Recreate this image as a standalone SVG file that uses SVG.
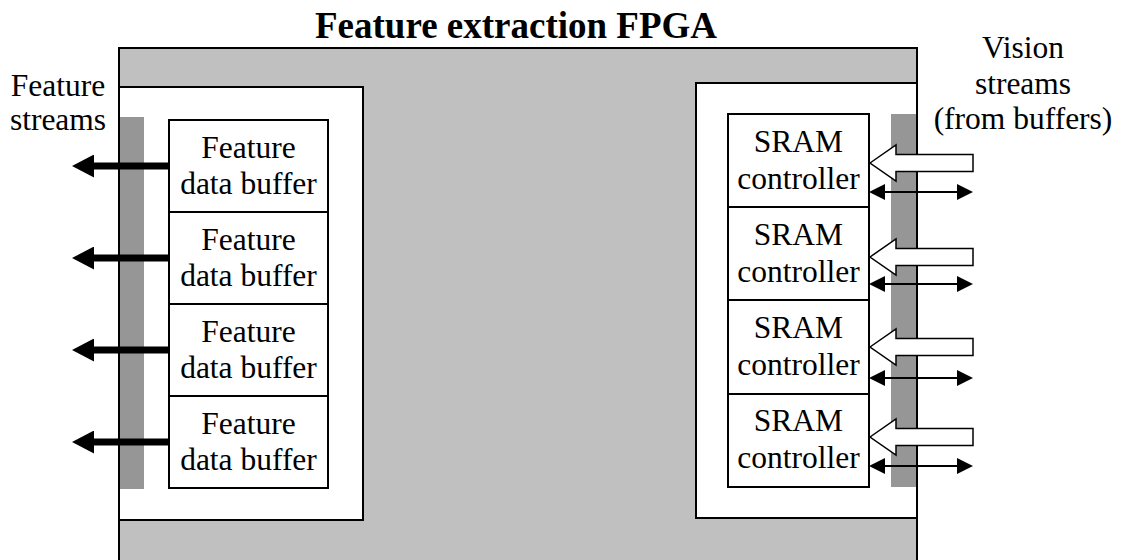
<svg xmlns="http://www.w3.org/2000/svg" width="1127" height="560" viewBox="0 0 1127 560">
<style>
text{font-family:"Liberation Serif","Times New Roman",serif;fill:#000}
.lbl{font-size:31.5px;text-anchor:middle}
.title{font-size:37px;font-weight:bold;text-anchor:middle}
.box{fill:#fff;stroke:#000;stroke-width:2}
.bar{fill:#969696;stroke:none}
.edge{fill:none;stroke:#000;stroke-width:2}
.thick{stroke:#000;stroke-width:7;fill:none}
.thin{stroke:#000;stroke-width:2;fill:none}
.wide{fill:#fff;stroke:#000;stroke-width:1.5}
</style>
<defs>
<marker id="bigHead" markerUnits="userSpaceOnUse" markerWidth="22" markerHeight="23" refX="0" refY="11.5" orient="auto">
<path d="M0,0 L22,11.5 L0,23 z" fill="#000"/>
</marker>
<marker id="smallHead" markerUnits="userSpaceOnUse" markerWidth="16" markerHeight="16" refX="0" refY="8" orient="auto-start-reverse">
<path d="M0,0 L16,8 L0,16 z" fill="#000"/>
</marker>
</defs>
<rect width="1127" height="560" fill="#fff"/>
<text class="title" x="516" y="38">Feature extraction FPGA</text>
<g id="fpga">
<rect x="119" y="48" width="798" height="530" fill="#c0c0c0"/>
</g>
<g id="left-region">
<rect x="119" y="87" width="244" height="433" fill="#fff"/>
<rect class="bar" x="119" y="117" width="25" height="372"/>
</g>
<g id="right-region">
<rect x="696" y="83" width="221" height="435" fill="#fff"/>
<rect class="bar" x="891" y="114" width="25" height="373"/>
</g>
<g id="outlines">
<path class="edge" d="M119,578 V48 H917 V578"/>
<path class="edge" d="M119,87 H363 V520 H119"/>
<path class="edge" d="M917,83 H696 V518 H917"/>
</g>
<g id="buf1"><rect class="box" x="169" y="120" width="159" height="92"/><text class="lbl" x="248.5" y="158">Feature</text><text class="lbl" x="248.5" y="194">data buffer</text></g>
<g id="buf2"><rect class="box" x="169" y="212" width="159" height="92"/><text class="lbl" x="248.5" y="250">Feature</text><text class="lbl" x="248.5" y="286">data buffer</text></g>
<g id="buf3"><rect class="box" x="169" y="304" width="159" height="92"/><text class="lbl" x="248.5" y="342">Feature</text><text class="lbl" x="248.5" y="378">data buffer</text></g>
<g id="buf4"><rect class="box" x="169" y="396" width="159" height="92"/><text class="lbl" x="248.5" y="434">Feature</text><text class="lbl" x="248.5" y="470">data buffer</text></g>
<g id="sram1"><rect class="box" x="728" y="114" width="141" height="93"/><text class="lbl" x="798.5" y="152">SRAM</text><text class="lbl" x="798.5" y="189">controller</text></g>
<g id="sram2"><rect class="box" x="728" y="207" width="141" height="93"/><text class="lbl" x="798.5" y="245">SRAM</text><text class="lbl" x="798.5" y="282">controller</text></g>
<g id="sram3"><rect class="box" x="728" y="300" width="141" height="94"/><text class="lbl" x="798.5" y="338">SRAM</text><text class="lbl" x="798.5" y="375">controller</text></g>
<g id="sram4"><rect class="box" x="728" y="394" width="141" height="93"/><text class="lbl" x="798.5" y="431">SRAM</text><text class="lbl" x="798.5" y="468">controller</text></g>
<g id="label-feature-streams"><text class="lbl" x="58" y="96">Feature</text><text class="lbl" x="58" y="130">streams</text></g>
<g id="label-vision-streams"><text class="lbl" x="1023" y="58">Vision</text><text class="lbl" x="1023" y="94">streams</text><text class="lbl" x="1023" y="129">(from buffers)</text></g>
<g id="connectors">
<line class="thick" x1="169" y1="166" x2="94" y2="166" marker-end="url(#bigHead)"/>
<line class="thick" x1="169" y1="258" x2="94" y2="258" marker-end="url(#bigHead)"/>
<line class="thick" x1="169" y1="350" x2="94" y2="350" marker-end="url(#bigHead)"/>
<line class="thick" x1="169" y1="442" x2="94" y2="442" marker-end="url(#bigHead)"/>
<polygon class="wide" points="870,163 896,145 896,154.5 973,154.5 973,171.5 896,171.5 896,181"/>
<polygon class="wide" points="870,257 896,239 896,248.5 973,248.5 973,265.5 896,265.5 896,275"/>
<polygon class="wide" points="870,347 896,329 896,338.5 973,338.5 973,355.5 896,355.5 896,365"/>
<polygon class="wide" points="870,437 896,419 896,428.5 973,428.5 973,445.5 896,445.5 896,455"/>
<line class="thin" x1="885" y1="192" x2="957" y2="192" marker-start="url(#smallHead)" marker-end="url(#smallHead)"/>
<line class="thin" x1="885" y1="284" x2="957" y2="284" marker-start="url(#smallHead)" marker-end="url(#smallHead)"/>
<line class="thin" x1="885" y1="378" x2="957" y2="378" marker-start="url(#smallHead)" marker-end="url(#smallHead)"/>
<line class="thin" x1="885" y1="466" x2="957" y2="466" marker-start="url(#smallHead)" marker-end="url(#smallHead)"/>
</g>
</svg>
